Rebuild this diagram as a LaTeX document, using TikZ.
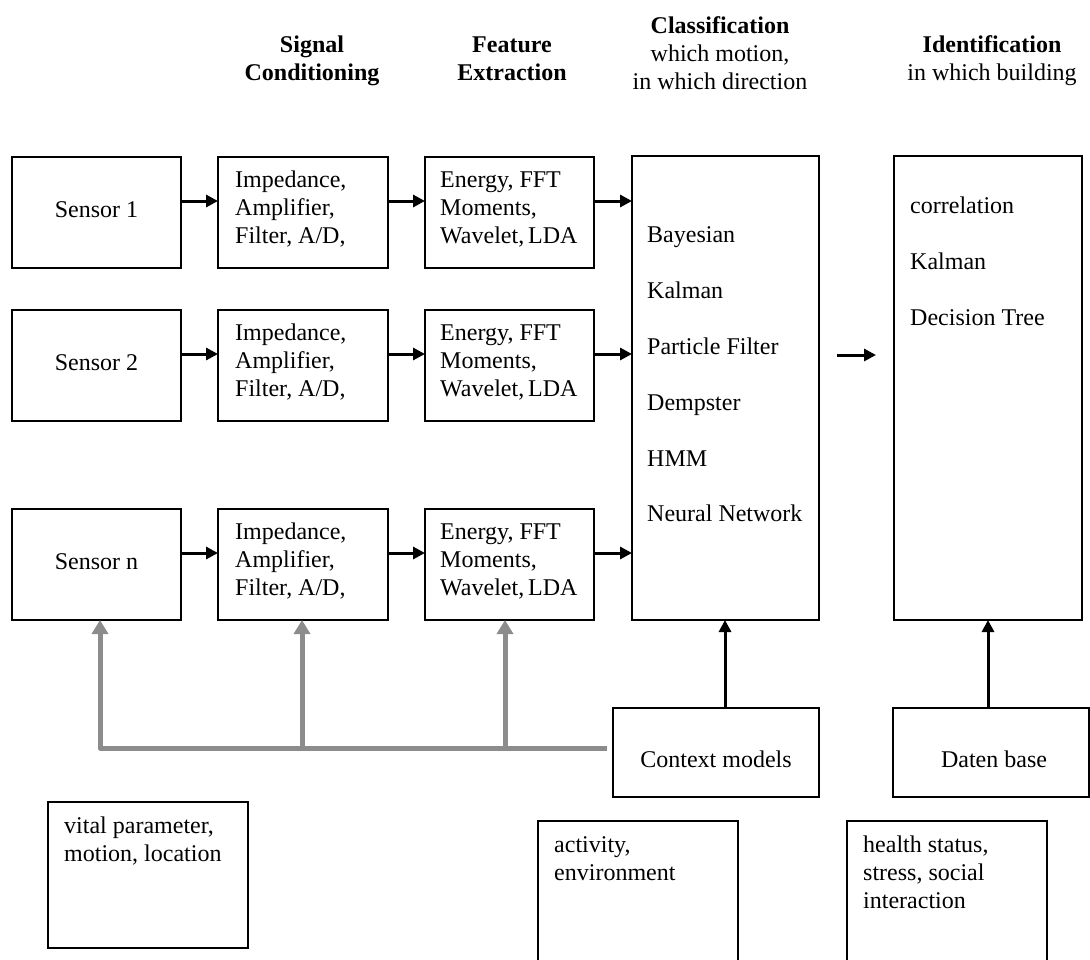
\documentclass[tikz,border=0pt]{standalone}
\usepackage{fontspec}
\setmainfont{Liberation Serif}
\usetikzlibrary{arrows.meta}
\definecolor{garrow}{RGB}{140,140,140}
\begin{document}
\begin{tikzpicture}[x=1pt,y=-1pt,
  box/.style={draw, line width=1.4pt, anchor=north west, inner sep=0pt, outer sep=0pt},
  t/.style={font=\fontsize{24}{28}\selectfont, inner sep=0pt, anchor=base west},
  tc/.style={t, anchor=base},
  hb/.style={tc, font=\fontsize{24}{28}\selectfont\bfseries},
  arr/.style={line width=3pt, -{Triangle[length=12pt,width=12pt]}},
  garr/.style={draw=garrow, line width=5pt, line join=round, -{Triangle[length=14pt,width=16pt]}}]
\path[use as bounding box] (0,0) rectangle (1090,959);
\clip (0,0) rectangle (1090,959);

% headings
\node[hb] (h1a) at (312,52) {Signal};
\node[hb] (h1b) at (312,80) {Conditioning};
\node[hb] (h2a) at (512,52) {Feature};
\node[hb] (h2b) at (512,80) {Extraction};
\node[hb] (h3a) at (720,33) {Classification};
\node[tc] (h3b) at (720,61) {which motion,};
\node[tc] (h3c) at (720,89) {in which direction};
\node[hb] (h4a) at (992,52) {Identification};
\node[tc] (h4b) at (992,80) {in which building};

% classification
\node[box, minimum width=187pt, minimum height=464pt] (c) at (632,156) {};
\node[t] (c1) at (647,242) {Bayesian};
\node[t] (c2) at (647,298) {Kalman};
\node[t] (c3) at (647,354) {Particle Filter};
\node[t] (c4) at (647,410) {Dempster};
\node[t] (c5) at (647,466) {HMM};
\node[t] (c6) at (647,521) {Neural Network};

% identification
\node[box, minimum width=188pt, minimum height=464pt] (id) at (894,156) {};
\node[t] (id1) at (910,213) {correlation};
\node[t] (id2) at (910,269) {Kalman};
\node[t] (id3) at (910,325) {Decision Tree};

\coordinate (ca) at (837,355);
\coordinate (cb) at (876,355);
\draw[arr] (ca) -- (cb);

% rows
\foreach \r/\yy/\lab in {1/157/{Sensor 1},2/310/{Sensor 2},n/509/{Sensor n}}{
  \node[box, minimum width=169pt, minimum height=111pt] (s\r) at (12,\yy) {};
  \node[tc] (s\r-t) at (96.5,\yy+60) {\lab};
  \node[box, minimum width=170pt, minimum height=111pt] (i\r) at (218,\yy) {};
  \node[t] (i\r-a) at (235,\yy+30) {Impedance,};
  \node[t] (i\r-b) at (235,\yy+58) {Amplifier,};
  \node[t] (i\r-c) at (235,\yy+86) {Filter, A/D,};
  \node[box, minimum width=169pt, minimum height=111pt] (f\r) at (425,\yy) {};
  \node[t] (f\r-a) at (440,\yy+30) {Energy, FFT};
  \node[t] (f\r-b) at (440,\yy+58) {Moments,};
  \node[t] (f\r-c) at (440,\yy+86) {Wavelet,\kern-2pt\ LDA};
  \coordinate (a\r) at ([yshift=11.5pt]s\r.east);
  \draw[arr] (a\r) -- (a\r -| i\r.west);
  \coordinate (b\r) at ([yshift=11.5pt]i\r.east);
  \draw[arr] (b\r) -- (b\r -| f\r.west);
  \coordinate (d\r) at ([yshift=11.5pt]f\r.east);
  \draw[arr] (d\r) -- (d\r -| c.west);
}

% context and data base
\node[box, minimum width=206pt, minimum height=89pt] (ctx) at (613,708) {};
\node[tc] (ctx-t) at (716,767) {Context models};
\node[box, minimum width=196pt, minimum height=89pt] (db) at (893,708) {};
\node[tc] (db-t) at (994,767) {Daten base};

\coordinate (ctxa) at ([xshift=9pt]ctx.north);
\draw[arr] (ctxa) -- (ctxa |- c.south);
\draw[arr] (db.north -| id.south) -- (id.south);

% gray feedback
\coordinate (g0) at (607,748);
\coordinate (gs) at ([xshift=3.5pt]sn.south);
\coordinate (gi) at ([xshift=-1pt]in.south);
\coordinate (gf) at ([xshift=-4.5pt]fn.south);
\draw[garr] (g0) -| (gs);
\draw[garr] (gi |- g0) -- (gi);
\draw[garr] (gf |- g0) -- (gf);

% bottom boxes
\node[box, minimum width=200pt, minimum height=146pt] (v) at (48,802) {};
\node[t] (v1) at (64,833) {vital parameter,};
\node[t] (v2) at (64,861) {motion, location};
\node[box, minimum width=200pt, minimum height=170pt] (ac) at (538,821) {};
\node[t] (ac1) at (554,852) {activity,};
\node[t] (ac2) at (554,880) {environment};
\node[box, minimum width=200pt, minimum height=170pt] (hs) at (847,821) {};
\node[t] (hs1) at (863,852) {health status,};
\node[t] (hs2) at (863,880) {stress, social};
\node[t] (hs3) at (863,908) {interaction};
\end{tikzpicture}
\end{document}
